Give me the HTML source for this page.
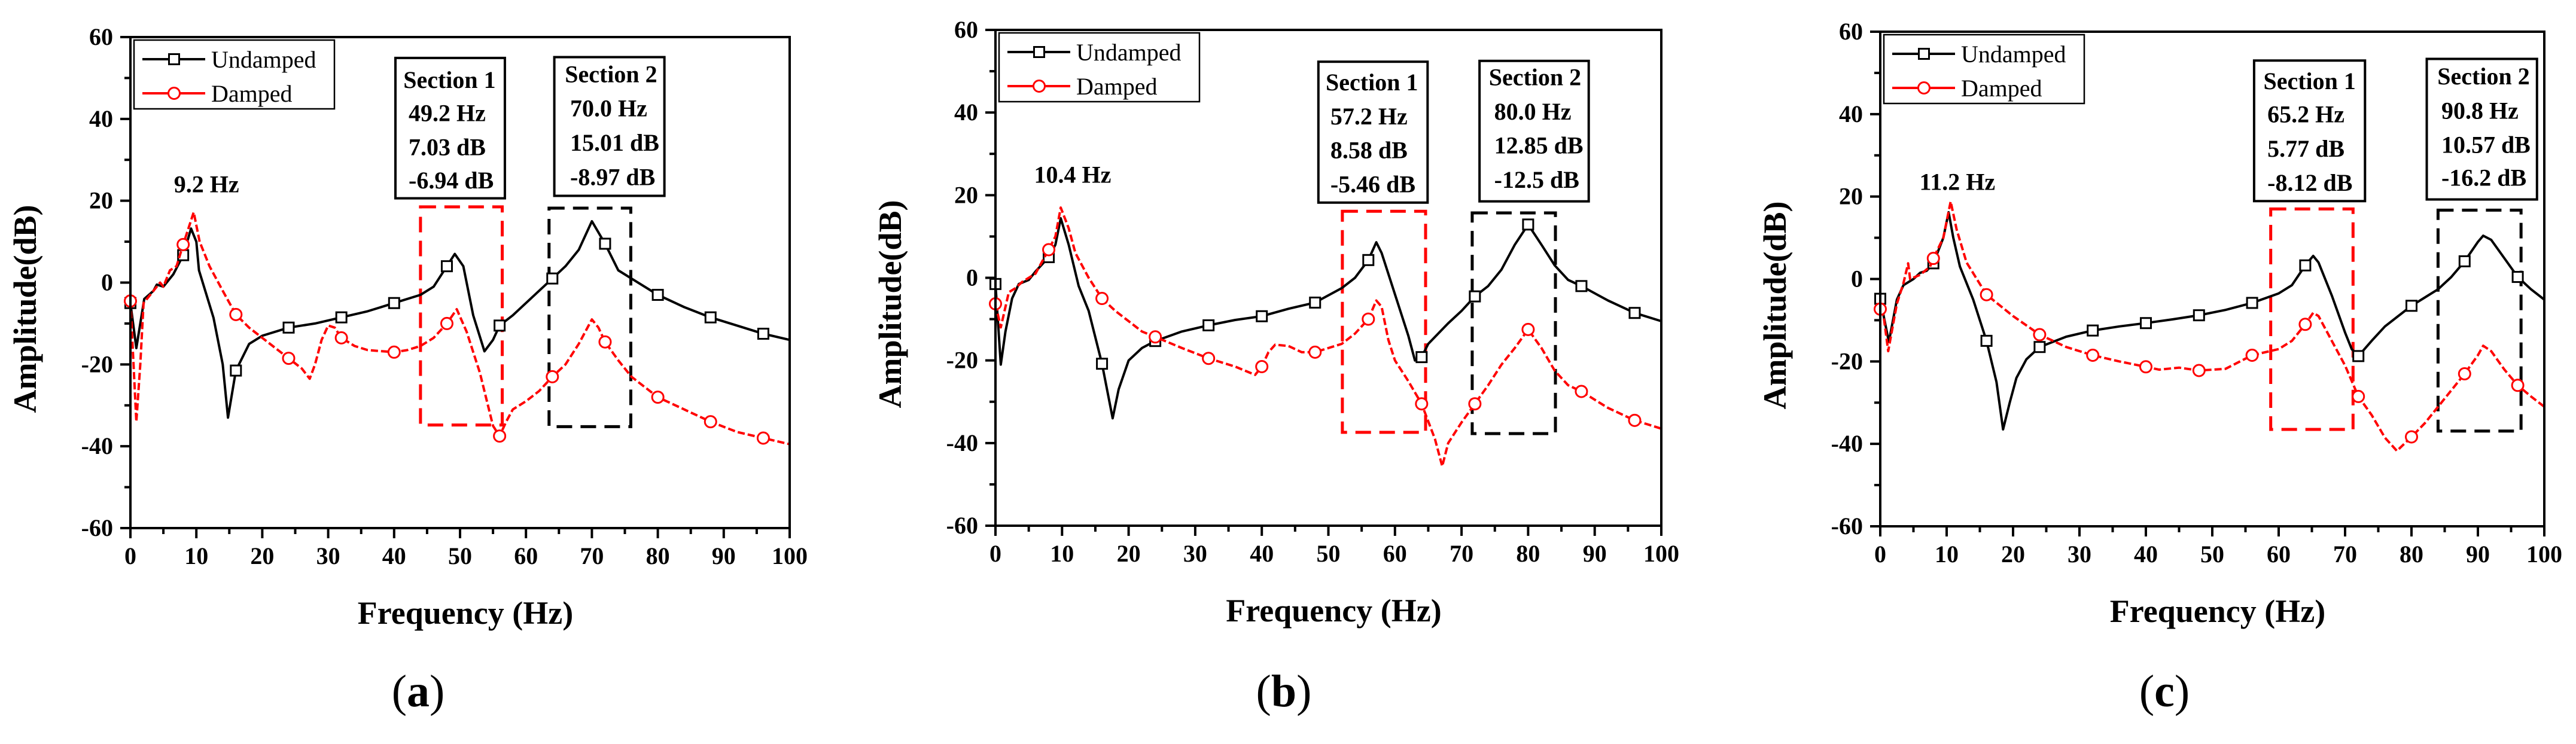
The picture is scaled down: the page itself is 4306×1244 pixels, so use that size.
<!DOCTYPE html>
<html><head><meta charset="utf-8">
<style>
html,body{margin:0;padding:0;background:#fff;}
svg{display:block;}
text{font-family:"Liberation Serif",serif;}
</style></head>
<body>
<svg id="fig" width="4306" height="1244" viewBox="0 0 4306 1244" xmlns="http://www.w3.org/2000/svg"></svg>
<script>
// ---------- data ----------
const xTicks = [0,10,20,30,40,50,60,70,80,90,100];
const yTicks = [-60,-40,-20,0,20,40,60];
const markerFreqs = [0,8,16,24,32,40,48,56,64,72,80,88,96];

// panel (a)
const aUndX = [0,0.9,2.1,3.5,4,5,6.5,8,9.2,10,10.4,12.6,14,14.8,16,18,20,24,28,32,36,40,44,46,48,49.2,50.5,52,53.7,55,56,58,60,62,64,66,68,70,72,74,76,80,84,88,92,96,100];
const aUndY = [-5,-16,-4,-2,-0.5,-1,2,6.7,13.2,10,3,-8.6,-20,-33,-21.5,-15,-13,-11,-10,-8.5,-7,-5,-3,-1,4,7,4,-8,-16.8,-14,-10.5,-8,-5,-2,1,4,8,15,9.5,3,1,-3,-6,-8.5,-10.5,-12.5,-14];
const aDamX = [0,0.9,1.5,2,3,4.5,5,6,7,8,9.6,10.5,12,14,16,18,20,22,24,26,27.2,28,29,30,31,32,34,36,40,42,44,46,48,49.5,51,53,55,56,57,58,60,62,64,66,68,70,71,72,74,76,80,84,88,92,96,100];
const aDamY = [-4.5,-34,-20,-5,-3,0,-1,3,4,9.3,17.2,10,4,-2,-7.8,-11,-13.5,-16,-18.5,-21,-23.5,-20,-14,-10.5,-11,-13.5,-15.5,-16.5,-17,-16.5,-15.5,-13.5,-10,-6.5,-12,-22,-35,-37.5,-34,-31,-29,-26.5,-23,-20,-15,-9,-11,-14.5,-19,-23,-28,-31,-34,-36.5,-38,-39.5];
const aPeakLabel = "9.2 Hz";
const aSec1 = ["Section 1","49.2 Hz","7.03 dB","-6.94 dB"];
const aSec2 = ["Section 2","70.0 Hz","15.01 dB","-8.97 dB"];

// panel (b)
const bUndX = [0,0.8,1.5,2.5,3.5,5,6,8,9,9.8,11,12.5,14,16,17.6,18.5,20,22,24,28,32,36,40,44,48,52,54,56,57.2,58,60,62,63,64,65,68,70,72,74,76,78,80,82,84,86,88,92,96,100];
const bUndY = [-1.5,-21,-13,-5,-1.5,-0.5,1.5,5,8,14.4,8,-2,-8,-20.8,-34,-27,-20,-17,-15.3,-13,-11.5,-10.2,-9.3,-7.5,-6,-2.5,0,4.3,8.6,6,-4,-14,-20,-19.2,-16,-11,-8,-4.5,-2,2,8,12.9,8,3,-0.5,-2,-5.5,-8.5,-10.5];
const bDamX = [0,0.8,2,3,4,6,8,9,9.8,11,12,14,16,18,20,22,24,28,32,36,39,40,41,42,44,46,48,52,54,56,57.2,58,59,60,62,64,66,67.1,68,70,72,74,76,78,80,82,84,86,88,92,96,100];
const bDamY = [-6.3,-12,-3.5,-2.5,-1,1,6.8,10,17,12,6,0,-5,-8,-10.5,-13,-14.3,-17,-19.5,-21.5,-23.5,-21.5,-18,-16.2,-16.5,-18,-18,-16,-13.5,-10,-5.5,-7,-15,-20,-25,-30.5,-39,-45.6,-40,-35,-30.5,-26,-21,-17,-12.5,-17,-22.5,-26,-27.5,-31.5,-34.5,-36.5];
const bPeakLabel = "10.4 Hz";
const bSec1 = ["Section 1","57.2 Hz","8.58 dB","-5.46 dB"];
const bSec2 = ["Section 2","80.0 Hz","12.85 dB","-12.5 dB"];

// panel (c)
const cUndX = [0,1.3,2.5,3.5,5,6,7,8,9.5,10.3,11,12,14,16,17.5,18.5,19.5,20.5,22,24,28,32,36,40,44,48,52,56,60,62,64,65.2,66,68,70,71,72,74,76,78,80,82,84,86,88,90,90.8,92,94,96,98,100];
const cUndY = [-4.8,-15.3,-5,-1.5,0,1.5,2,3.8,10,16.2,10,3,-5,-15,-25,-36.5,-30,-24,-19.5,-16.5,-14,-12.5,-11.5,-10.7,-9.8,-8.8,-7.5,-5.8,-3.5,-1.5,3.3,5.6,4,-4,-13,-17,-18.7,-15,-11.5,-9,-6.5,-4.5,-2.5,0.5,4.3,9,10.5,9.5,5,0.5,-2.5,-5];
const cDamX = [0,0.5,1.2,2.5,3.5,4.2,4.5,6,7.5,8,9.5,10.6,11.5,13,16,20,24,28,32,36,40,42,45,48,52,56,60,62,64,65.2,66,68,70,72,74,76,77.8,80,82,84,86,88,90,90.8,92,94,96,98,100];
const cDamY = [-7.3,-9,-17.5,-6,-1,3.8,0,1,3,5,10,18.8,12,4,-3.8,-9,-13.5,-16.5,-18.5,-20,-21.3,-22,-21.5,-22.2,-21.8,-18.5,-17,-15,-11,-8.2,-9,-15,-21,-28.5,-33,-38.5,-41.7,-38.3,-35,-31,-27,-23,-18.5,-16.2,-17.5,-22,-25.8,-28.5,-31];
const cPeakLabel = "11.2 Hz";
const cSec1 = ["Section 1","65.2 Hz","5.77 dB","-8.12 dB"];
const cSec2 = ["Section 2","90.8 Hz","10.57 dB","-16.2 dB"];

// ---------- layout (not data) ----------
const NS = "http://www.w3.org/2000/svg";
const svg = document.getElementById('fig');
function mk(tag, attrs, parent){
  const e = document.createElementNS(NS, tag);
  for (const k in attrs) e.setAttribute(k, attrs[k]);
  (parent||svg).appendChild(e);
  return e;
}
function interp(xs, ys, x){
  for (let i=0;i<xs.length-1;i++){
    if (x>=xs[i] && x<=xs[i+1]){
      const t = (x-xs[i])/(xs[i+1]-xs[i]||1);
      return ys[i]+t*(ys[i+1]-ys[i]);
    }
  }
  return ys[ys.length-1];
}

const panels = [
  {id:'a', L:218, R:1320, T:62, B:883, letter:'a', lx:699,
   und:[aUndX,aUndY], dam:[aDamX,aDamY], peak:aPeakLabel, peakPos:[6.6,22.1],
   sec1:aSec1, sec2:aSec2,
   s1box:[40.2,56.8,54.9,20.6], s1txt:[41.4,42.2,[47.6,39.5,31.1,23.0]],
   s2box:[64.3,81.0,55.1,21.2], s2txt:[65.9,66.7,[49,40.6,32.2,23.8]],
   red:[44,56.4,18.5,-34.8], blk:[63.5,75.9,18.2,-35.2]},
  {id:'b', L:1664, R:2777, T:50, B:879, letter:'b', lx:2146,
   und:[bUndX,bUndY], dam:[bDamX,bDamY], peak:bPeakLabel, peakPos:[5.8,23],
   sec1:bSec1, sec2:bSec2,
   s1box:[48.5,64.9,52.3,18.2], s1txt:[49.6,50.3,[45.4,37.1,28.97,20.7]],
   s2box:[72.7,89.1,52.5,18.5], s2txt:[74.1,74.9,[46.6,38.3,30.1,21.8]],
   red:[52.1,64.6,16.1,-37.4], blk:[71.6,84.1,15.7,-37.7]},
  {id:'c', L:3143, R:4253, T:53, B:880, letter:'c', lx:3618,
   und:[cUndX,cUndY], dam:[cDamX,cDamY], peak:cPeakLabel, peakPos:[5.9,21.6],
   sec1:cSec1, sec2:cSec2,
   s1box:[56.3,73,53,18.9], s1txt:[57.7,58.3,[46.1,38,29.7,21.4]],
   s2box:[82.3,98.9,53.4,19.3], s2txt:[83.9,84.5,[47.2,38.9,30.6,22.6]],
   red:[58.8,71.2,17.0,-36.5], blk:[84.0,96.5,16.7,-36.9]}
];

panels.forEach(p => {
  const g = mk('g', {});
  
  
  const sx = v => p.L + (v/100)*(p.R-p.L);
  const sy = v => p.B - ((v+60)/120)*(p.B-p.T);

  // section annotations (behind curves)
  function dashedBox(b, color, name){
    const r = mk('rect', {x:sx(b[0]), y:sy(b[2]), width:sx(b[1])-sx(b[0]), height:sy(b[3])-sy(b[2]),
      fill:'none', stroke:color, 'stroke-width':5, 'stroke-dasharray':'26 14'}, g);
    
    
  }
  dashedBox(p.red, '#ff0000', 'section-1-region');
  dashedBox(p.blk, '#000000', 'section-2-region');

  function textBox(b, t, lines, name){
    const bg = mk('g', {}, g);
    
    
    mk('rect', {x:sx(b[0]), y:sy(b[2]), width:sx(b[1])-sx(b[0]), height:sy(b[3])-sy(b[2]),
      fill:'#fff', stroke:'#000', 'stroke-width':4}, bg);
    lines.forEach((s,i) => {
      const tx = mk('text', {x:sx(i===0?t[0]:t[1]), y:sy(t[2][i]), 'font-size':40, 'font-weight':'bold', fill:'#000'}, bg);
      tx.textContent = s;
    });
  }
  textBox(p.s1box, p.s1txt, p.sec1, 'section-1-info');
  textBox(p.s2box, p.s2txt, p.sec2, 'section-2-info');

  const pk = mk('text', {x:sx(p.peakPos[0]), y:sy(p.peakPos[1]), 'font-size':40, 'font-weight':'bold'}, g);
  
  
  pk.textContent = p.peak;

  // curves
  function series(xs, ys, color, dash, marker, name){
    const sg = mk('g', {}, g);
    
    
    const pts = xs.map((x,i) => sx(x).toFixed(1)+','+sy(ys[i]).toFixed(1)).join(' ');
    const attrs = {points:pts, fill:'none', stroke:color, 'stroke-width':4, 'stroke-linejoin':'round'};
    if (dash) attrs['stroke-dasharray'] = dash;
    mk('polyline', attrs, sg);
    markerFreqs.forEach(f => {
      const cx = sx(f), cy = sy(interp(xs, ys, f));
      let m;
      if (marker === 'square') m = mk('rect', {x:cx-8.5, y:cy-8.5, width:17, height:17, fill:'#fff', stroke:color, 'stroke-width':3}, sg);
      else m = mk('circle', {cx:cx, cy:cy, r:9.5, fill:'#fff', stroke:color, 'stroke-width':3}, sg);
      
      
    });
  }
  series(p.und[0], p.und[1], '#000', null, 'square', 'undamped-series');
  series(p.dam[0], p.dam[1], '#ff0000', '12 5', 'circle', 'damped-series');

  // frame and ticks
  const fr = mk('rect', {x:p.L, y:p.T, width:p.R-p.L, height:p.B-p.T, fill:'none', stroke:'#000', 'stroke-width':4}, g);
  
  
  for (let v=-60; v<=60; v+=10){
    const major = yTicks.includes(v);
    mk('line', {x1:p.L-(major?17:10), x2:p.L, y1:sy(v), y2:sy(v), stroke:'#000', 'stroke-width':4}, g);
  }
  yTicks.forEach(v => {
    const t = mk('text', {x:p.L-29, y:sy(v)+13, 'font-size':40, 'font-weight':'bold', 'text-anchor':'end'}, g);
    
    
    t.textContent = v;
  });
  for (let v=0; v<=100; v+=5){
    const major = xTicks.includes(v);
    mk('line', {x1:sx(v), x2:sx(v), y1:p.B, y2:p.B+(major?17:10), stroke:'#000', 'stroke-width':4}, g);
  }
  xTicks.forEach(v => {
    const t = mk('text', {x:sx(v), y:p.B+60, 'font-size':40, 'font-weight':'bold', 'text-anchor':'middle'}, g);
    
    
    t.textContent = v;
  });

  // axis titles
  const xt = mk('text', {x:(p.L+p.R)/2+9, y:p.B+160, 'font-size':54, 'font-weight':'bold', 'text-anchor':'middle'}, g);
  
  
  xt.textContent = 'Frequency (Hz)';
  const ycx = p.L-158, ycy = (p.T+p.B)/2+44;
  const yt = mk('text', {x:ycx, y:ycy, 'font-size':54, 'font-weight':'bold', 'text-anchor':'middle', transform:'rotate(-90 '+ycx+' '+ycy+')'}, g);
  
  
  yt.textContent = 'Amplitude(dB)';

  // legend
  const lg = mk('g', {}, g);
  
  
  const lx0 = p.L+6, ly0 = p.T+5;
  mk('rect', {x:lx0, y:ly0, width:335, height:115, fill:'#fff', stroke:'#000', 'stroke-width':2.5}, lg);
  [['Undamped','#000','square',37],['Damped','#ff0000','circle',94]].forEach(e => {
    const eg = mk('g', {}, lg);
    
    
    const yy = p.T + e[3];
    mk('line', {x1:p.L+20, x2:p.L+125, y1:yy, y2:yy, stroke:e[1], 'stroke-width':4}, eg);
    if (e[2]==='square') mk('rect', {x:p.L+73-8.5, y:yy-8.5, width:17, height:17, fill:'#fff', stroke:e[1], 'stroke-width':3}, eg);
    else mk('circle', {cx:p.L+73, cy:yy, r:9.5, fill:'#fff', stroke:e[1], 'stroke-width':3}, eg);
    const t = mk('text', {x:p.L+135, y:yy+14, 'font-size':40}, eg);
    t.textContent = e[0];
  });

  // subfigure letter
  const sl = mk('text', {x:p.lx, y:1181, 'font-size':76, 'text-anchor':'middle'}, g);
  
  
  const t1 = mk('tspan', {}, sl); t1.textContent = '(';
  const t2 = mk('tspan', {'font-weight':'bold'}, sl); t2.textContent = p.letter;
  const t3 = mk('tspan', {}, sl); t3.textContent = ')';
});
</script>
</body></html>
